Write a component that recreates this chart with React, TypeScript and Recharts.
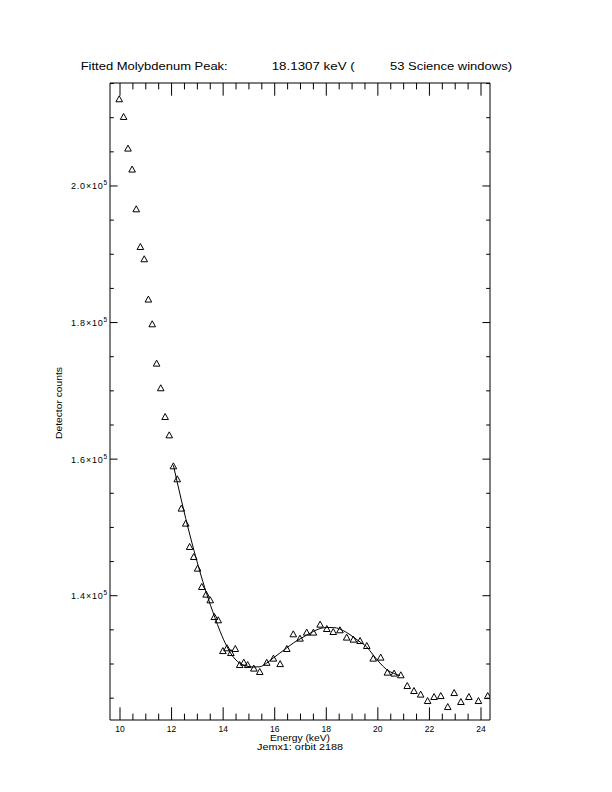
import React from 'react';
import { ComposedChart, Scatter, Line, XAxis, YAxis } from 'recharts';

// measured spectrum (keV, detector counts)
const energies = [
  9.97, 10.14, 10.31, 10.47, 10.63, 10.79, 10.94, 11.1, 11.25, 11.42, 11.58, 11.75, 11.91,
  12.07, 12.22, 12.38, 12.55, 12.7, 12.86, 13.01, 13.17, 13.34, 13.5, 13.66, 13.81, 13.99,
  14.15, 14.3, 14.47, 14.64, 14.8, 14.95, 15.19, 15.42, 15.69, 15.95, 16.21, 16.47, 16.72,
  16.98, 17.24, 17.5, 17.76, 18.02, 18.27, 18.53, 18.79, 19.05, 19.31, 19.57, 19.82, 20.11,
  20.37, 20.63, 20.89, 21.14, 21.4, 21.66, 21.93, 22.18, 22.44, 22.71, 22.96, 23.22, 23.53,
  23.9, 24.26,
];
const counts = [
  212740, 210150, 205520, 202450, 196630, 191110, 189310, 183410, 179790, 174030, 170420,
  166210, 163530, 158990, 157090, 152800, 150600, 147180, 145710, 144010, 141320, 140200,
  139370, 136920, 136440, 131940, 132340, 131650, 132240, 129890, 130240, 129890, 129370,
  128870, 130220, 130830, 130030, 132240, 134390, 133760, 134640, 134640, 135810, 135170,
  134730, 134980, 133910, 133610, 133410, 132680, 130830, 130980, 128780, 128640, 128390,
  126820, 126090, 125560, 124620, 125210, 125350, 123740, 125790, 124480, 125210, 124620,
  125350,
];

// fitted curve
const fitEnergies = [
  12.07, 12.22, 12.38, 12.55, 12.71, 12.87, 13.04, 13.21, 13.36, 13.51, 13.68, 13.88, 14.14,
  14.34, 14.65, 14.96, 15.2, 15.43, 15.69, 15.95, 16.2, 16.46, 16.72, 16.98, 17.24, 17.5,
  17.76, 18.02, 18.27, 18.53, 18.79, 19.05, 19.31, 19.57, 19.82, 20.08, 20.34, 20.6, 20.86,
];
const fitCounts = [
  159100, 156600, 154000, 151300, 148900, 146600, 144300, 142100, 140300, 138600, 136800,
  134800, 132600, 131300, 130100, 129650, 129550, 129600, 130140, 130900, 131600, 132340,
  133070, 133660, 134240, 134760, 135200, 135340, 135340, 135120, 134610, 133950, 133220,
  132490, 131320, 130140, 129190, 128640, 128310,
];

const xMajor = [10, 12, 14, 16, 18, 20, 22, 24];
const xTicks = [
  10, 10.5, 11, 11.5, 12, 12.5, 13, 13.5, 14, 14.5, 15, 15.5, 16, 16.5, 17, 17.5, 18, 18.5,
  19, 19.5, 20, 20.5, 21, 21.5, 22, 22.5, 23, 23.5, 24,
];
const yMajor = [140000, 160000, 180000, 200000];
const yMajorLabels = ['1.4', '1.6', '1.8', '2.0'];
const yTicks = [
  125000, 130000, 135000, 140000, 145000, 150000, 155000, 160000, 165000, 170000, 175000,
  180000, 185000, 190000, 195000, 200000, 205000, 210000, 215000,
];

const X_DOMAIN = [9.612, 24.349];
const Y_DOMAIN = [121800, 215080];
const FONT = '"Liberation Sans", Arial, sans-serif';

const points = energies.map((e, i) => ({ e, c: counts[i] }));
const fit = fitEnergies.map((e, i) => ({ e, c: fitCounts[i] }));

const Tri = (props: any) => {
  const { cx, cy } = props;
  return (
    <path
      d={`M${cx},${cy - 3.2} L${cx + 3.3},${cy + 2.8} L${cx - 3.3},${cy + 2.8} Z`}
      fill="none"
      stroke="#000"
      strokeWidth={1}
    />
  );
};

const BottomTick = (props: any) => {
  const { x, y, payload } = props;
  const major = xMajor.includes(payload.value);
  return (
    <g>
      <line x1={x} y1={y} x2={x} y2={y - (major ? 12.7 : 6.4)} stroke="#000" />
      {major && (
        <text x={x} y={y + 12} textAnchor="middle" fontSize={8.5} fontFamily={FONT} fill="#000">
          {payload.value}
        </text>
      )}
    </g>
  );
};

const TopTick = (props: any) => {
  const { x, y, payload } = props;
  const major = xMajor.includes(payload.value);
  return <line x1={x} y1={y} x2={x} y2={y + (major ? 12.7 : 6.4)} stroke="#000" />;
};

const LeftTick = (props: any) => {
  const { x, y, payload } = props;
  const idx = yMajor.indexOf(payload.value);
  return (
    <g>
      <line x1={x} y1={y} x2={x + (idx >= 0 ? 7.6 : 3.8)} y2={y} stroke="#000" />
      {idx >= 0 && (
        <text x={x - 2} y={y + 3.5} textAnchor="end" fontSize={9} fontFamily={FONT} fill="#000" letterSpacing={0.8}>
          {yMajorLabels[idx]}×10
          <tspan fontSize={6.5} dy={-4}>5</tspan>
        </text>
      )}
    </g>
  );
};

const RightTick = (props: any) => {
  const { x, y, payload } = props;
  const major = yMajor.includes(payload.value);
  return <line x1={x} y1={y} x2={x - (major ? 7.6 : 3.8)} y2={y} stroke="#000" />;
};

export default function App() {
  return (
    <div style={{ position: 'absolute', left: 0, top: 0, width: 612, height: 792, background: '#fff' }}>
      <ComposedChart width={612} height={792} margin={{ top: 0, right: 0, bottom: 0, left: 0 }}>
        <XAxis
          xAxisId="b"
          dataKey="e"
          type="number"
          domain={X_DOMAIN}
          allowDataOverflow
          ticks={xTicks}
          interval={0}
          height={72}
          tickSize={0}
          tickMargin={0}
          tickLine={false}
          axisLine={{ stroke: '#000' }}
          tick={<BottomTick />}
        />
        <XAxis
          xAxisId="t"
          orientation="top"
          dataKey="e"
          type="number"
          domain={X_DOMAIN}
          allowDataOverflow
          ticks={xTicks}
          interval={0}
          height={83}
          tickSize={0}
          tickMargin={0}
          tickLine={false}
          axisLine={{ stroke: '#000' }}
          tick={<TopTick />}
        />
        <YAxis
          yAxisId="l"
          dataKey="c"
          type="number"
          domain={Y_DOMAIN}
          allowDataOverflow
          ticks={yTicks}
          interval={0}
          width={110}
          tickSize={0}
          tickMargin={0}
          tickLine={false}
          axisLine={{ stroke: '#000' }}
          tick={<LeftTick />}
        />
        <YAxis
          yAxisId="r"
          orientation="right"
          dataKey="c"
          type="number"
          domain={Y_DOMAIN}
          allowDataOverflow
          ticks={yTicks}
          interval={0}
          width={122}
          tickSize={0}
          tickMargin={0}
          tickLine={false}
          axisLine={{ stroke: '#000' }}
          tick={<RightTick />}
        />
        <Line
          xAxisId="b"
          yAxisId="l"
          data={fit}
          dataKey="c"
          type="monotone"
          stroke="#000"
          strokeWidth={1}
          dot={false}
          activeDot={false}
          isAnimationActive={false}
        />
        <Scatter
          xAxisId="b"
          yAxisId="l"
          data={points}
          dataKey="c"
          shape={<Tri />}
          isAnimationActive={false}
        />
      </ComposedChart>
      <svg
        width={612}
        height={792}
        style={{ position: 'absolute', left: 0, top: 0, pointerEvents: 'none' }}
        fontFamily={FONT}
        fill="#000"
      >
        <text x={80.7} y={70} fontSize={11} textLength={147} lengthAdjust="spacingAndGlyphs">
          Fitted Molybdenum Peak:
        </text>
        <text x={271.7} y={70} fontSize={11} textLength={83} lengthAdjust="spacingAndGlyphs">
          18.1307 keV (
        </text>
        <text x={390} y={70} fontSize={11} textLength={122} lengthAdjust="spacingAndGlyphs">
          53 Science windows)
        </text>
        <text x={300} y={741} fontSize={8.5} textAnchor="middle" textLength={60} lengthAdjust="spacingAndGlyphs">
          Energy (keV)
        </text>
        <text x={300} y={750} fontSize={8.5} textAnchor="middle" textLength={86} lengthAdjust="spacingAndGlyphs">
          Jemx1: orbit 2188
        </text>
        <text
          transform="translate(62,403) rotate(-90)"
          fontSize={9.5}
          textAnchor="middle"
          textLength={72}
          lengthAdjust="spacingAndGlyphs"
        >
          Detector counts
        </text>
      </svg>
    </div>
  );
}
